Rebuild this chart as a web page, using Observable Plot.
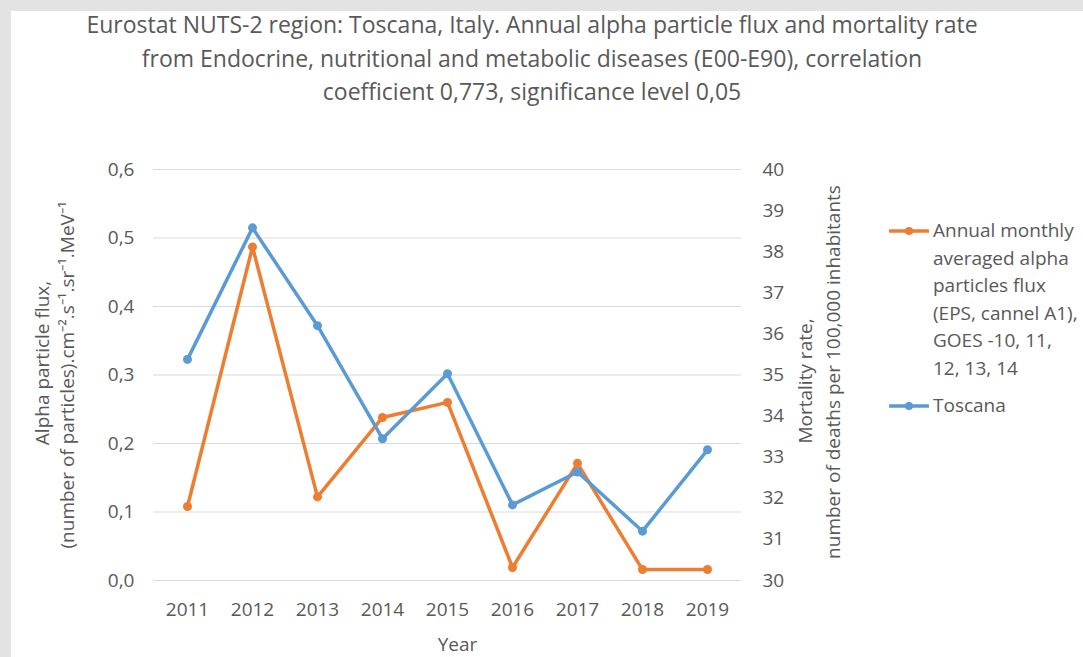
<!DOCTYPE html>
<html>
<head>
<meta charset="utf-8">
<script src="https://cdn.jsdelivr.net/npm/d3@7"></script>
<script src="https://cdn.jsdelivr.net/npm/@observablehq/plot@0.6"></script>
<style>
  html, body { margin: 0; padding: 0; width: 1083px; height: 657px; overflow: hidden; background: #e3e3e3; }
  #card { position: absolute; left: 11px; top: 11px; width: 1072px; height: 646px; background: #fff; overflow: hidden; }
  #title { position: absolute; left: 0; top: 8px; width: 1064px; text-align: center; font-family: "Open Sans", sans-serif; font-size: 23px; line-height: 33.5px; color: #595959; white-space: nowrap; }
  #chart { position: absolute; left: 0; top: 119px; }
  #legend { position: absolute; left: 878px; top: 206px; font-family: "Open Sans", sans-serif; font-size: 19px; color: #595959; white-space: nowrap; }
  .row { display: flex; align-items: flex-start; }
  .row svg { flex: none; margin-top: 6px; }
  .row .lbl { line-height: 27.6px; margin-left: 4px; }
</style>
</head>
<body>
<div id="card">
  <div id="chart"></div>
  <div id="legend"></div>
</div>
<div id="title">Eurostat NUTS-2 region: Toscana, Italy. Annual alpha particle flux and mortality rate<br>from Endocrine, nutritional and metabolic diseases (E00-E90), correlation<br>coefficient 0,773, significance level 0,05</div>
<script>
const years = ["2011","2012","2013","2014","2015","2016","2017","2018","2019"];
const alphaFlux = [0.108, 0.487, 0.122, 0.238, 0.260, 0.019, 0.171, 0.016, 0.016];
const mortality = [35.38, 38.58, 36.20, 33.45, 35.03, 31.84, 32.64, 31.20, 33.18];
const leftTicks = [0, 0.1, 0.2, 0.3, 0.4, 0.5, 0.6];
const rightTicks = [30, 31, 32, 33, 34, 35, 36, 37, 38, 39, 40];
const seriesNames = ["Annual monthly\naveraged alpha\nparticles flux\n(EPS, cannel A1),\nGOES -10, 11,\n12, 13, 14", "Toscana"];
const colors = ["#ED7D31", "#5B9BD5"];
const leftTitle = ["Alpha particle flux,", "(number of particles).cm\u207B\u00B2.s\u207B\u00B9.sr\u207B\u00B9.MeV\u207B\u00B9"];
const rightTitle = ["Mortality rate,", "number of deaths per 100,000 inhabitants"];
const xTitle = "Year";

// map right-axis (mortality) values onto the left scale domain
const rMin = 30, rMax = 40, lMax = 0.6;
const toLeft = v => (v - rMin) / (rMax - rMin) * lMax;
const fromLeft = d => rMin + d / lMax * (rMax - rMin);

const fluxData = years.map((y, i) => ({year: y, v: alphaFlux[i]}));
const mortData = years.map((y, i) => ({year: y, v: toLeft(mortality[i])}));

const textColor = "#595959";
const plot = Plot.plot({
  width: 1072,
  height: 527,
  marginLeft: 142,
  marginRight: 342,
  marginTop: 39,
  marginBottom: 77,
  style: {fontFamily: "Open Sans, sans-serif", fontSize: "19px", color: textColor, background: "white", overflow: "visible"},
  x: {type: "point", domain: years, padding: 0.5, label: null},
  y: {domain: [0, lMax], label: null},
  marks: [
    Plot.gridY(leftTicks, {stroke: "#d9d9d9", strokeOpacity: 1, strokeWidth: 1.2}),
    Plot.axisY(leftTicks, {anchor: "left", tickSize: 0, tickPadding: 19, label: null,
      tickFormat: d => d.toFixed(1).replace(".", ","), fill: textColor}),
    Plot.axisY(rightTicks.map(toLeft), {anchor: "right", tickSize: 0, tickPadding: 21, label: null,
      tickFormat: d => String(Math.round(fromLeft(d))), fill: textColor}),
    Plot.axisX(years, {anchor: "bottom", tickSize: 0, tickPadding: 22, label: null, fill: textColor}),
    Plot.line(fluxData, {x: "year", y: "v", stroke: colors[0], strokeWidth: 3.5}),
    Plot.dot(fluxData, {x: "year", y: "v", r: 4.5, fill: colors[0], stroke: "none"}),
    Plot.line(mortData, {x: "year", y: "v", stroke: colors[1], strokeWidth: 3.5}),
    Plot.dot(mortData, {x: "year", y: "v", r: 4.5, fill: colors[1], stroke: "none"}),
    Plot.text([leftTitle[0]], {frameAnchor: "left", rotate: -90, dx: -111, dy: -12, fontSize: 19, fill: textColor, textAnchor: "middle", lineAnchor: "middle"}),
    Plot.text([leftTitle[1]], {frameAnchor: "left", rotate: -90, dx: -86, dy: 0, fontSize: 19, fill: textColor, textAnchor: "middle", lineAnchor: "middle"}),
    Plot.text([rightTitle[0]], {frameAnchor: "right", rotate: -90, dx: 64, dy: 6, fontSize: 19, fill: textColor, textAnchor: "middle", lineAnchor: "middle"}),
    Plot.text([rightTitle[1]], {frameAnchor: "right", rotate: -90, dx: 92, dy: -3, fontSize: 19, fill: textColor, textAnchor: "middle", lineAnchor: "middle"}),
    Plot.text([xTitle], {frameAnchor: "bottom", dx: 10, dy: 64, fontSize: 19, fill: textColor, lineAnchor: "middle"})
  ]
});
document.getElementById("chart").appendChild(plot);

// legend
const legend = document.getElementById("legend");
seriesNames.forEach((name, i) => {
  const row = document.createElement("div");
  row.className = "row";
  if (i > 0) row.style.marginTop = "9px";
  const ns = "http://www.w3.org/2000/svg";
  const sw = document.createElementNS(ns, "svg");
  sw.setAttribute("width", "40"); sw.setAttribute("height", "16");
  const ln = document.createElementNS(ns, "line");
  ln.setAttribute("x1", "1"); ln.setAttribute("x2", "39"); ln.setAttribute("y1", "8"); ln.setAttribute("y2", "8");
  ln.setAttribute("stroke", colors[i]); ln.setAttribute("stroke-width", "3.5"); ln.setAttribute("stroke-linecap", "round");
  const c = document.createElementNS(ns, "circle");
  c.setAttribute("cx", "20"); c.setAttribute("cy", "8"); c.setAttribute("r", "4"); c.setAttribute("fill", colors[i]);
  sw.appendChild(ln); sw.appendChild(c);
  const lbl = document.createElement("div");
  lbl.className = "lbl";
  lbl.innerHTML = name.split("\n").join("<br>");
  row.appendChild(sw); row.appendChild(lbl);
  legend.appendChild(row);
});
</script>
</body>
</html>
